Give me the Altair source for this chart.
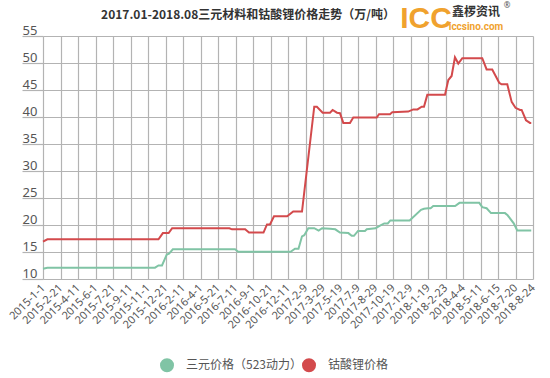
import altair as alt
import pandas as pd

# ---------------- data ----------------
x_labels = ["2015-1-1", "2015-2-21", "2015-4-11", "2015-6-1", "2015-7-21", "2015-9-11",
            "2015-11-1", "2015-12-21", "2016-2-11", "2016-4-1", "2016-5-21", "2016-7-11",
            "2016-9-1", "2016-10-21", "2016-12-11", "2017-2-9", "2017-3-29", "2017-5-19",
            "2017-7-9", "2017-8-29", "2017-10-19", "2017-12-9", "2018-1-19", "2018-2-23",
            "2018-4-4", "2018-5-11", "2018-6-15", "2018-7-20", "2018-8-24"]

series_names = ["三元价格（523动力）", "钴酸锂价格"]

# position along the category axis (in label-interval units) and price (万/吨)
ternary_pos = [0.0, 0.25, 6.4, 6.6, 6.8, 7.07, 7.2, 7.42, 10.97, 11.16, 14.15, 14.4, 14.6,
               14.8, 14.93, 15.16, 15.5, 15.75, 15.95, 16.4, 16.7, 16.97, 17.45, 17.64,
               17.77, 18.0, 18.4, 18.5, 19.0, 19.26, 19.5, 19.7, 19.85, 20.95, 21.6, 21.77,
               22.0, 22.15, 22.3, 23.55, 23.8, 24.93, 25.1, 25.35, 25.6, 26.4, 26.55, 26.9,
               27.1, 27.9]
ternary_val = [11.9, 12.1, 12.1, 12.5, 12.5, 14.5, 14.7, 15.5, 15.5, 15.05, 15.05, 15.6, 15.6,
               17.9, 18.1, 19.4, 19.4, 18.95, 19.4, 19.3, 19.2, 18.6, 18.5, 18.0,
               18.0, 18.9, 18.9, 19.2, 19.4, 19.9, 20.3, 20.3, 20.85, 20.85, 22.8, 23.0,
               23.1, 23.1, 23.5, 23.5, 24.1, 24.1, 23.3, 23.1, 22.2, 22.2, 21.8, 20.3,
               19.0, 19.0]

lco_pos = [0.0, 0.25, 6.6, 6.85, 7.18, 7.38, 10.65, 10.8, 11.55, 11.77, 12.6, 12.8, 12.97,
           13.2, 13.95, 14.3, 14.8, 15.5, 15.65, 15.98, 16.4, 16.55, 16.8, 16.97, 17.16,
           17.54, 17.73, 19.07, 19.2, 19.83, 19.96, 20.87, 21.16, 21.4, 21.64, 21.77, 21.96,
           22.97, 23.16, 23.35, 23.54, 23.73, 23.96, 25.1, 25.35, 25.67, 26.07, 26.2, 26.53,
           26.78, 27.0, 27.26, 27.35, 27.6, 27.83, 27.9]
lco_val = [16.9, 17.35, 17.35, 18.5, 18.5, 19.4, 19.4, 19.2, 19.2, 18.6, 18.6, 20.1, 20.1,
           21.6, 21.6, 22.5, 22.5, 41.9, 41.9, 40.8, 40.8, 41.3, 40.8, 40.7, 38.9,
           38.9, 39.9, 39.9, 40.5, 40.5, 40.9, 41.0, 41.4, 41.4, 41.9, 41.9, 44.1,
           44.1, 46.85, 47.6, 51.05, 49.9, 50.9, 50.9, 48.8, 48.8, 46.35, 46.05, 46.05,
           42.8, 41.7, 41.3, 41.3, 39.4, 38.9, 38.9]

y_ticks = [10, 15, 20, 25, 30, 35, 40, 45, 50, 55]

title_text = "2017.01-2018.08三元材料和钴酸锂价格走势（万/吨）"

# ---------------- styles ----------------
GREEN = "#80c4a5"
RED = "#d34a4c"
GRID = "#b3b3b3"
ORANGE = "#f0a22e"

df = pd.concat([
    pd.DataFrame({"pos": ternary_pos, "price": ternary_val, "series": series_names[0], "order": range(len(ternary_pos))}),
    pd.DataFrame({"pos": lco_pos, "price": lco_val, "series": series_names[1], "order": range(len(lco_pos))}),
], ignore_index=True)

label_expr = "[" + ",".join("'%s'" % s for s in x_labels) + "][datum.value]"

lines = alt.Chart(df).mark_line(strokeWidth=2, interpolate="linear").encode(
    x=alt.X("pos:Q",
            scale=alt.Scale(domain=[0, len(x_labels) - 1], nice=False, zero=False),
            axis=alt.Axis(values=list(range(len(x_labels))), labelExpr=label_expr, title=None,
                          grid=True, gridColor=GRID, gridWidth=1.2, ticks=False, domain=False,
                          labelAngle=-45, labelAlign="right", labelBaseline="middle",
                          labelPadding=7, labelFont="Noto Sans", labelFontSize=11,
                          labelColor="#555555", labelOverlap=False)),
    y=alt.Y("price:Q",
            scale=alt.Scale(domain=[10, 55], nice=False, zero=False),
            axis=alt.Axis(values=y_ticks, title=None, grid=True, gridColor=GRID, gridWidth=1.2,
                          tickSize=21, tickColor=GRID, tickWidth=1.2, domain=False,
                          labelAlign="left", labelBaseline="alphabetic", labelPadding=0,
                          labelOffset=-2, labelFont="Noto Sans", labelFontSize=13,
                          labelColor="#555555")),
    color=alt.Color("series:N",
                    scale=alt.Scale(domain=series_names, range=[GREEN, RED]),
                    legend=alt.Legend(orient="none", legendX=117, legendY=322,
                                      direction="horizontal", title=None,
                                      symbolType="circle", symbolSize=49,
                                      symbolStrokeWidth=7, labelFont="Noto Sans CJK SC",
                                      labelFontSize=12, labelColor="#555555",
                                      labelOffset=12, columnPadding=-18, padding=0)),
    order="order:Q",
)

def txt(s, x, y, **kw):
    return alt.Chart(pd.DataFrame({"t": [s]})).mark_text(**kw).encode(
        x=alt.value(x), y=alt.value(y), text="t:N")

title = txt(title_text, 205, -21, fontSize=12, fontWeight="bold", color="#333333",
            font="Noto Sans CJK SC", align="center", baseline="middle")
logo_icc = txt("ICC", 383, -17, fontSize=30, fontWeight="bold", color=ORANGE,
               font="Liberation Sans", align="center", baseline="middle")
logo_cn = txt("鑫椤资讯", 433, -24, fontSize=12, fontWeight="bold", color="#333333",
              font="Noto Sans CJK SC", align="center", baseline="middle")
logo_r = txt("®", 464, -30, fontSize=8, color="#555555", font="Noto Sans",
             align="center", baseline="middle")
logo_url = txt("iccsino.com", 433, -9, fontSize=10, fontWeight="bold", color=ORANGE,
               font="Roboto", align="center", baseline="middle")

chart = alt.layer(lines, title, logo_icc, logo_cn, logo_r, logo_url).properties(
    width=490, height=243,
    autosize=alt.AutoSizeParams(type="none"),
    padding={"left": 43, "top": 36, "right": 17, "bottom": 99},
    background="white",
).configure_view(stroke=None)

chart.save("out.html", embed_options={"renderer": "svg", "actions": False})
